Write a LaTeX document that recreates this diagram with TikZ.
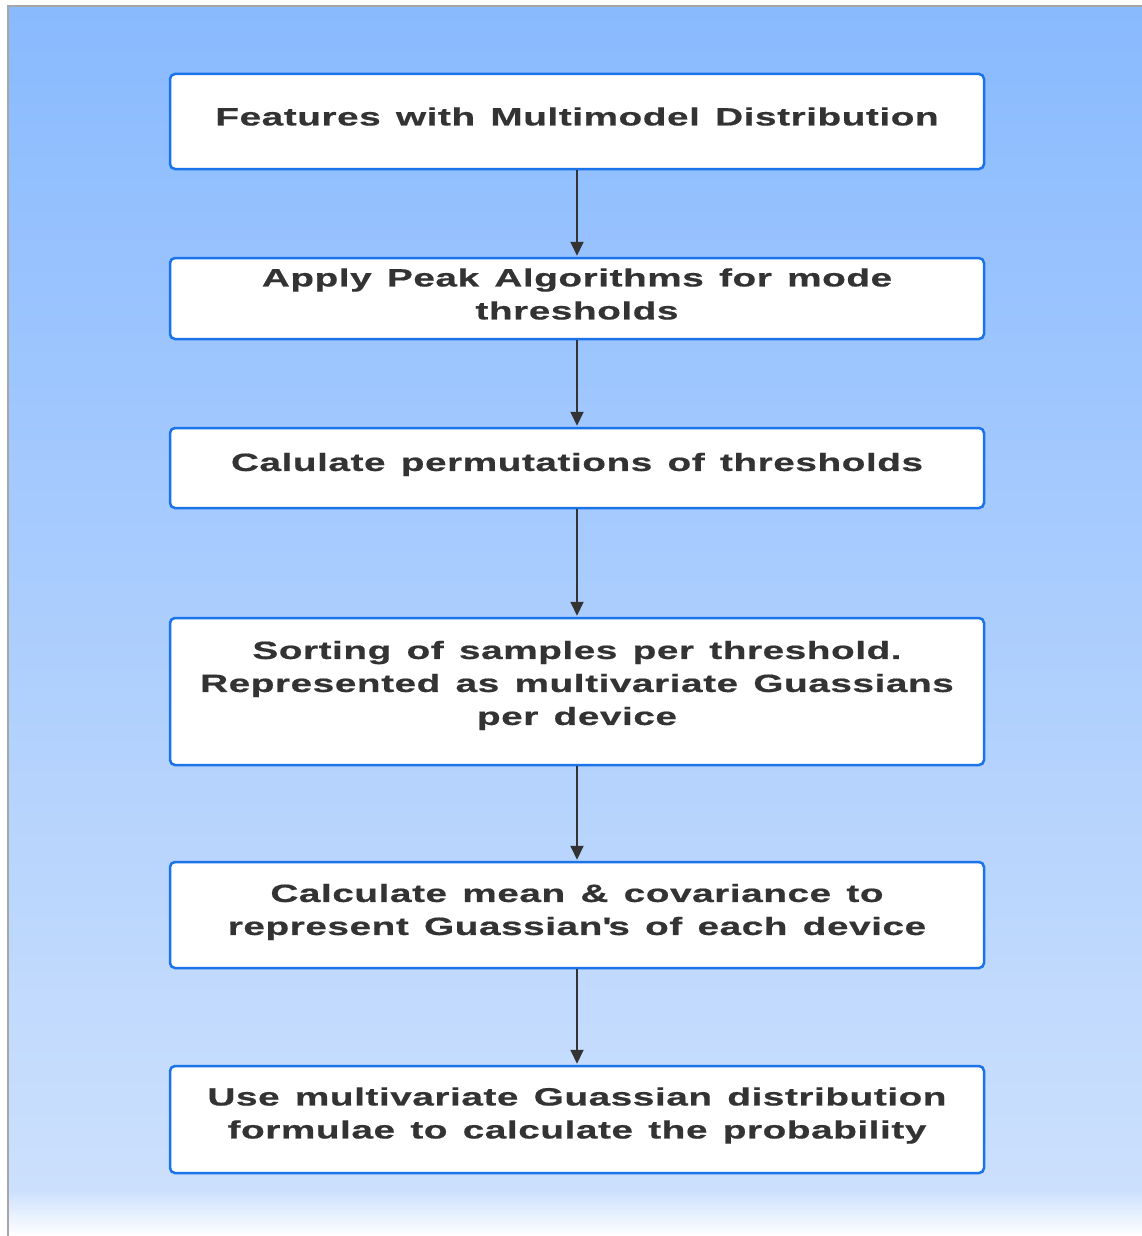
\documentclass[tikz,border=0pt]{standalone}
\usepackage{fontspec}
\setmainfont{Liberation Sans}[LetterSpace=2.2, FakeStretch=1.55, WordSpace=1.35, FakeBold=0.6]
\usetikzlibrary{arrows.meta}
\definecolor{bgtop}{HTML}{89BAFE}
\definecolor{bgbot}{HTML}{CCE0FD}
\definecolor{boxblue}{HTML}{1A73E8}
\definecolor{ink}{HTML}{333333}
\tikzset{
  stepbox/.style={draw=boxblue, line width=2.5pt, fill=white, rounded corners=5pt,
    minimum width=814pt, inner sep=0pt},
  steplabel/.style={text=ink, align=center, inner sep=0pt,
    font=\fontsize{25}{33}\selectfont\bfseries},
  flow/.style={draw=ink, line width=2pt, -{Triangle[length=14pt,width=13pt]}, shorten >=1pt}
}
\begin{document}
\begin{tikzpicture}[x=1pt,y=-1pt]
\useasboundingbox (0,0) rectangle (1142,1236);
\fill[white] (0,0) rectangle (1142,1236);
% background panel
\shade[top color=bgtop, bottom color=bgbot] (8,6) rectangle (1142,1192);
\shade[top color=bgbot, bottom color=white] (8,1190) rectangle (1142,1236);
\draw[gray!70, line width=1.5pt] (8,1236) -- (8,6) -- (1142,6);
% process steps
\node[stepbox, minimum height=95pt]  (b1) at (577,121.5) {};
\node[stepbox, minimum height=81pt]  (b2) at (577,298.5) {};
\node[stepbox, minimum height=80pt]  (b3) at (577,468) {};
\node[stepbox, minimum height=147pt] (b4) at (577,691.5) {};
\node[stepbox, minimum height=106pt] (b5) at (577,915) {};
\node[stepbox, minimum height=107pt] (b6) at (577,1119.5) {};
\node[steplabel] (t1) at (577,116.5) {Features with Multimodel Distribution};
\node[steplabel] (t2) at (577,294) {Apply Peak Algorithms for mode\\thresholds};
\node[steplabel] (t3) at (577,464.5) {Calulate permutations of thresholds};
\node[steplabel] (t4) at (577,685.5) {Sorting of samples per threshold.\\Represented as multivariate Guassians\\per device};
\node[steplabel] (t5) at (577,912) {Calculate mean \& covariance to\\represent Guassian\textquotesingle s of each device};
\node[steplabel] (t6) at (577,1115.5) {Use multivariate Guassian distribution\\formulae to calculate the probability};
% connectors
\draw[flow] (b1) -- (b2);
\draw[flow] (b2) -- (b3);
\draw[flow] (b3) -- (b4);
\draw[flow] (b4) -- (b5);
\draw[flow] (b5) -- (b6);
\end{tikzpicture}
\end{document}
